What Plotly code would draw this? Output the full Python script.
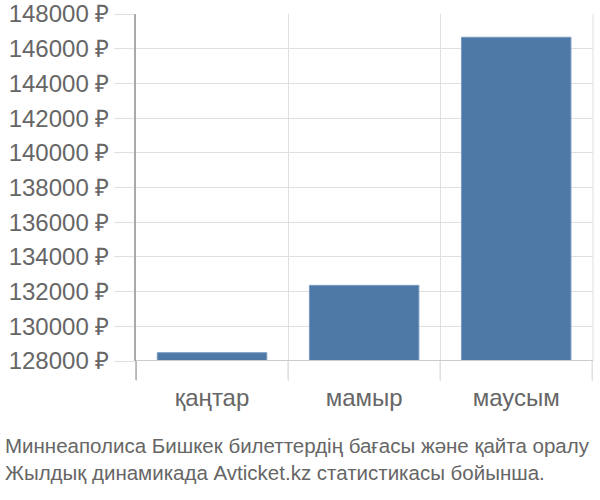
import plotly.graph_objects as go

categories = ["қаңтар", "мамыр", "маусым"]
prices = [128480, 132360, 146660]
base_value = 128000
y_ticks = [128000, 130000, 132000, 134000, 136000, 138000, 140000, 142000, 144000, 146000, 148000]
y_tick_labels = [f"{v} ₽" for v in y_ticks]
caption = "Миннеаполиса Бишкек билеттердің бағасы және қайта оралу<br>Жылдық динамикада Avticket.kz статистикасы бойынша."

fig = go.Figure()
fig.add_trace(go.Bar(
    x=categories,
    y=[p - base_value for p in prices],
    base=base_value,
    width=0.72,
    marker=dict(color="#4e79a7", line=dict(color="#7b9cc2", width=1)),
    customdata=prices,
    hovertemplate="%{x}: %{customdata} ₽<extra></extra>",
))

# tick marks below the plot at the category boundaries
boundary_shapes = [
    dict(type="line", xref="x", yref="paper", x0=i + 0.5, x1=i + 0.5, y0=-0.055, y1=0,
         line=dict(color="#e0e0e0", width=1.5), layer="above")
    for i in range(len(categories))
]

fig.update_layout(
    width=600, height=500,
    margin=dict(l=136, r=7, t=14, b=139),
    paper_bgcolor="white", plot_bgcolor="white",
    showlegend=False,
    font=dict(family="Liberation Sans, Arial, sans-serif", color="#666666", size=24),
    xaxis=dict(
        type="category",
        tickson="boundaries",
        showgrid=True, gridcolor="#e0e0e0", gridwidth=1,
        ticks="outside", ticklen=19, tickcolor="#e0e0e0", tickwidth=1,
        ticklabelstandoff=20,
        showline=False,
        tickfont=dict(size=24, color="#666666"),
        automargin=False,
        fixedrange=True,
    ),
    yaxis=dict(
        range=[128000, 148000],
        tickvals=y_ticks, ticktext=y_tick_labels,
        showgrid=True, gridcolor="#e0e0e0", gridwidth=1,
        ticks="outside", ticklen=20, tickcolor="#e0e0e0",
        showline=True, linecolor="#aaaaaa", linewidth=1.5,
        zeroline=False,
        tickfont=dict(size=24, color="#666666"),
        automargin=False,
        fixedrange=True,
    ),
    shapes=[
        dict(type="line", xref="paper", yref="y", x0=0, x1=1, y0=base_value, y1=base_value,
             line=dict(color="#cccccc", width=2), layer="above"),
        dict(type="line", xref="paper", yref="paper", x0=1, x1=1, y0=0, y1=1,
             line=dict(color="#e0e0e0", width=1), layer="below"),
        dict(type="line", xref="paper", yref="paper", x0=0, x1=0, y0=-0.055, y1=0,
             line=dict(color="#aaaaaa", width=1.5), layer="above"),
    ] + boundary_shapes,
    annotations=[dict(
        text=caption, xref="paper", yref="paper",
        x=-0.291, y=-0.2825, xanchor="left", yanchor="middle", align="left",
        showarrow=False, font=dict(size=20.5, color="#666666"),
    )],
)

fig.write_html("out.html", config={"displayModeBar": False},
               post_script="document.body.style.margin='0';document.body.style.padding='0';")
